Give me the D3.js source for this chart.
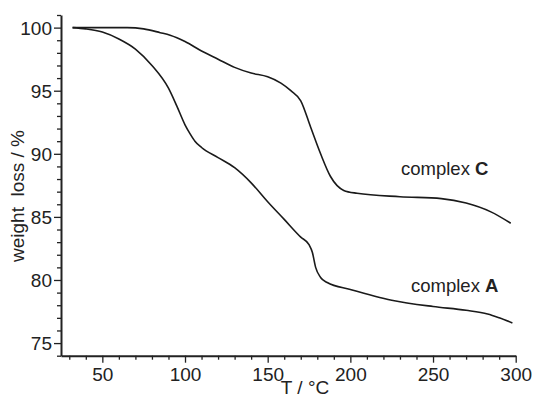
<!DOCTYPE html>
<html>
<head>
<meta charset="utf-8">
<script src="https://cdn.jsdelivr.net/npm/d3@7"></script>
<style>
    body { margin: 0; background: #fff; }
    svg text { font-family: "Liberation Sans", Arial, Helvetica, sans-serif; fill: #222; }
</style>
</head>
<body>
<svg id="chart" width="533" height="399"></svg>
<script>
(function() {
    'use strict';

    // complex A
    var tempA = [32, 40, 50, 60, 70, 80, 90, 95, 100, 103, 106, 110, 120, 130, 140, 150, 160, 170, 175, 177, 179, 182, 186, 200, 225, 250, 270, 283, 290, 298];
    var weightA = [100.0, 99.9, 99.65, 99.1, 98.3, 97.0, 95.2, 93.8, 92.3, 91.6, 91.0, 90.5, 89.7, 88.9, 87.7, 86.2, 84.8, 83.4, 82.8, 82.2, 81.0, 80.2, 79.8, 79.25, 78.4, 77.9, 77.6, 77.3, 77.0, 76.6];

    // complex C
    var tempC = [32, 50, 65, 75, 85, 91, 100, 110, 120, 130, 140, 150, 158, 164, 170, 176, 182, 188, 196, 204, 230, 255, 270, 285, 297];
    var weightC = [100.0, 100.0, 100.0, 99.9, 99.6, 99.4, 98.9, 98.15, 97.5, 96.85, 96.4, 96.1, 95.6, 95.0, 94.2, 92.1, 90.0, 88.2, 87.1, 86.87, 86.6, 86.45, 86.1, 85.4, 84.5];

    var xTicks = [50, 100, 150, 200, 250, 300];
    var yTicks = [75, 80, 85, 90, 95, 100];

    var svg = d3.select("#chart");

    var x = d3.scaleLinear().domain([25, 300]).range([61, 515.7]);
    var y = d3.scaleLinear().domain([74, 101]).range([355.7, 15]);

    var minorX = d3.range(30, 301, 10).filter(function(v) { return v % 50 !== 0; });
    var minorY = d3.range(74, 102, 1).filter(function(v) { return v % 5 !== 0; });

    // minor ticks
    svg.append("g")
        .attr("transform", "translate(0," + y.range()[0] + ")")
        .call(d3.axisBottom(x).tickValues(minorX).tickSize(4).tickFormat(""))
        .call(function(g) { g.select(".domain").remove(); });
    svg.append("g")
        .attr("transform", "translate(" + x.range()[0] + ",0)")
        .call(d3.axisLeft(y).tickValues(minorY).tickSize(4).tickFormat(""))
        .call(function(g) { g.select(".domain").remove(); });

    // major ticks
    svg.append("g")
        .attr("transform", "translate(0," + y.range()[0] + ")")
        .call(d3.axisBottom(x).tickValues(xTicks).tickSize(7).tickSizeOuter(0).tickPadding(5));
    var yAxis = svg.append("g")
        .attr("transform", "translate(" + x.range()[0] + ",0)")
        .call(d3.axisLeft(y).tickValues(yTicks).tickSize(7).tickSizeOuter(0).tickPadding(2));

    svg.selectAll(".tick line").attr("stroke", "#222").attr("stroke-width", 1.3);
    svg.selectAll(".domain").attr("stroke", "#222").attr("stroke-width", 2);
    svg.selectAll(".tick text").style("font-size", "19px").attr("fill", "#222");
    yAxis.selectAll(".tick text").attr("dy", "0.36em");

    // curves
    var line = d3.line()
        .x(function(d) { return x(d[0]); })
        .y(function(d) { return y(d[1]); })
        .curve(d3.curveMonotoneX);

    var seriesA = d3.zip(tempA, weightA);
    var seriesC = d3.zip(tempC, weightC);

    svg.selectAll("path.curve")
        .data([seriesA, seriesC])
        .enter()
        .append("path")
        .attr("class", "curve")
        .attr("fill", "none")
        .attr("stroke", "#1a1a1a")
        .attr("stroke-width", 1.6)
        .attr("d", line);

    // labels
    var labC = svg.append("text").attr("x", 401).attr("y", 175).style("font-size", "18.5px");
    labC.append("tspan").text("complex ");
    labC.append("tspan").attr("font-weight", "bold").text("C");

    var labA = svg.append("text").attr("x", 411).attr("y", 292).style("font-size", "18.5px");
    labA.append("tspan").text("complex ");
    labA.append("tspan").attr("font-weight", "bold").text("A");

    svg.append("text")
        .attr("x", 305).attr("y", 394)
        .attr("text-anchor", "middle")
        .style("font-size", "19px")
        .text("T / °C");

    svg.append("text")
        .attr("transform", "translate(24,196) rotate(-90)")
        .attr("text-anchor", "middle")
        .style("font-size", "19px")
        .style("white-space", "pre")
        .text("weight  loss / %");
})();
</script>
</body>
</html>
